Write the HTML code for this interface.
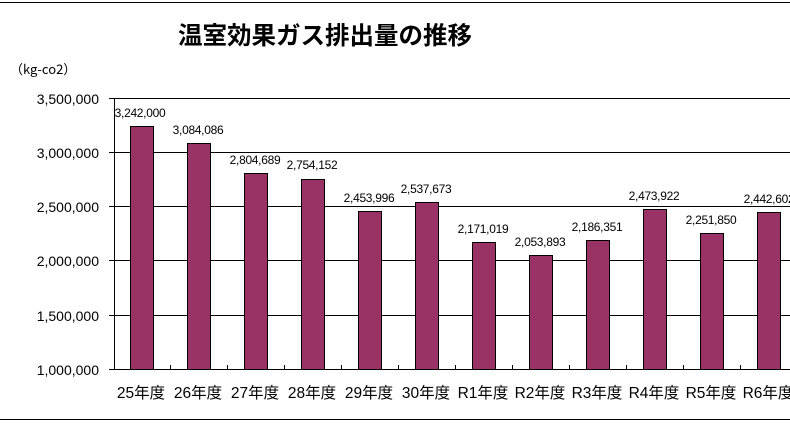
<!DOCTYPE html>
<html><head><meta charset="utf-8"><style>
html,body{margin:0;padding:0;background:#fff;}
svg{display:block;font-family:"Liberation Sans","Noto Sans CJK JP",sans-serif;}
</style></head><body>
<svg width="790" height="423" viewBox="0 0 790 423" xmlns="http://www.w3.org/2000/svg">
<line x1="0" y1="2.5" x2="790" y2="2.5" stroke="#000" stroke-width="1"/>
<line x1="0" y1="419.5" x2="790" y2="419.5" stroke="#000" stroke-width="1"/>
<text x="178" y="44" font-size="24.5" font-weight="bold" font-family="'Noto Sans CJK JP',sans-serif">温室効果ガス排出量の推移</text>
<text x="10" y="74" font-size="13" font-family="'Noto Sans CJK JP',sans-serif">（kg-co2）</text>
<g stroke="#000" stroke-width="1">
<line x1="114" y1="98.5" x2="790" y2="98.5"/>
<line x1="114" y1="152.5" x2="790" y2="152.5"/>
<line x1="114" y1="206.5" x2="790" y2="206.5"/>
<line x1="114" y1="260.5" x2="790" y2="260.5"/>
<line x1="114" y1="315.5" x2="790" y2="315.5"/>
<line x1="114" y1="369.5" x2="790" y2="369.5"/>
<line x1="114.5" y1="98" x2="114.5" y2="369"/>
<line x1="109" y1="98.5" x2="114" y2="98.5"/><line x1="109" y1="152.5" x2="114" y2="152.5"/><line x1="109" y1="206.5" x2="114" y2="206.5"/><line x1="109" y1="260.5" x2="114" y2="260.5"/><line x1="109" y1="315.5" x2="114" y2="315.5"/><line x1="109" y1="369.5" x2="114" y2="369.5"/>
</g>
<g font-size="14" text-anchor="end">
<text x="99" y="104">3,500,000</text><text x="99" y="158">3,000,000</text><text x="99" y="212">2,500,000</text><text x="99" y="266">2,000,000</text><text x="99" y="321">1,500,000</text><text x="99" y="375">1,000,000</text>
</g>
<g stroke="#000" stroke-width="1">
<line x1="170.5" y1="365" x2="170.5" y2="369"/><line x1="227.5" y1="365" x2="227.5" y2="369"/><line x1="284.5" y1="365" x2="284.5" y2="369"/><line x1="341.5" y1="365" x2="341.5" y2="369"/><line x1="398.5" y1="365" x2="398.5" y2="369"/><line x1="455.5" y1="365" x2="455.5" y2="369"/><line x1="512.5" y1="365" x2="512.5" y2="369"/><line x1="569.5" y1="365" x2="569.5" y2="369"/><line x1="626.5" y1="365" x2="626.5" y2="369"/><line x1="683.5" y1="365" x2="683.5" y2="369"/><line x1="740.5" y1="365" x2="740.5" y2="369"/>
</g>
<g fill="#993366" stroke="#000" stroke-width="1">
<rect x="130.5" y="126.5" width="23" height="243"/>
<rect x="187.5" y="143.5" width="23" height="226"/>
<rect x="244.5" y="173.5" width="23" height="196"/>
<rect x="301.5" y="179.5" width="23" height="190"/>
<rect x="358.5" y="211.5" width="23" height="158"/>
<rect x="415.5" y="202.5" width="23" height="167"/>
<rect x="472.5" y="242.5" width="23" height="127"/>
<rect x="529.5" y="255.5" width="23" height="114"/>
<rect x="586.5" y="240.5" width="23" height="129"/>
<rect x="643.5" y="209.5" width="23" height="160"/>
<rect x="700.5" y="233.5" width="23" height="136"/>
<rect x="757.5" y="212.5" width="23" height="157"/>
</g>
<g font-size="12" text-anchor="middle" letter-spacing="-0.3">
<text x="140" y="117">3,242,000</text>
<text x="198" y="134">3,084,086</text>
<text x="255" y="164">2,804,689</text>
<text x="312" y="169">2,754,152</text>
<text x="369" y="202">2,453,996</text>
<text x="426" y="193">2,537,673</text>
<text x="483" y="233">2,171,019</text>
<text x="540" y="246">2,053,893</text>
<text x="597" y="231">2,186,351</text>
<text x="654" y="200">2,473,922</text>
<text x="711" y="224">2,251,850</text>
<text x="769" y="203">2,442,602</text>
</g>
<g font-size="15.5" text-anchor="middle" font-family="'Liberation Sans','Noto Sans CJK JP',sans-serif">
<text x="141" y="398">25年度</text><text x="198" y="398">26年度</text><text x="255" y="398">27年度</text><text x="312" y="398">28年度</text><text x="369" y="398">29年度</text><text x="426" y="398">30年度</text><text x="483" y="398">R1年度</text><text x="540" y="398">R2年度</text><text x="597" y="398">R3年度</text><text x="654" y="398">R4年度</text><text x="711" y="398">R5年度</text><text x="768" y="398">R6年度</text>
</g>
</svg>
</body></html>
